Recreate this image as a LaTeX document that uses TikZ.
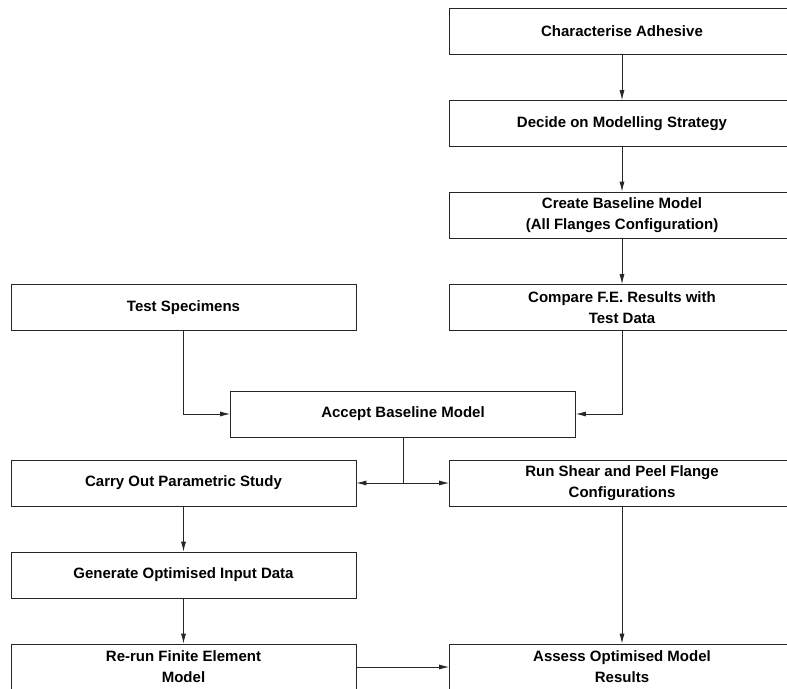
\documentclass[tikz,border=0pt]{standalone}
\usepackage{fontspec}
\setmainfont{Liberation Sans}
\usetikzlibrary{arrows.meta}
\begin{document}
\begin{tikzpicture}[x=1pt,y=-1pt,
  box/.style={draw=black!85,line width=0.8pt,minimum width=345pt,minimum height=46pt,
    inner sep=0pt,align=center,font=\bfseries\fontsize{15}{21}\selectfont},
  arr/.style={draw=black!85,line width=0.8pt,-{Latex[length=10pt,width=5pt]}},
  ln/.style={draw=black!85,line width=0.8pt}]
\useasboundingbox (0,0) rectangle (787,688);
\clip (0,0) rectangle (787,688);
\fill[white] (0,0) rectangle (787,688);
\node[box] (char) at (622,31) {Characterise Adhesive};
\node[box] (decide) at (622,123.5) {Decide on Modelling Strategy};
\node[box] (create) at (622,215) {Create Baseline Model\\(All Flanges Configuration)};
\node[box] (compare) at (622,307.5) {Compare F.E. Results with\\Test Data};
\node[box] (test) at (183.5,307.5) {Test Specimens};
\node[box] (accept) at (403,414) {Accept Baseline Model};
\node[box] (carry) at (183.5,483) {Carry Out Parametric Study};
\node[box] (run) at (622,483) {Run Shear and Peel Flange\\Configurations};
\node[box] (gen) at (183.5,575) {Generate Optimised Input Data};
\node[box] (rerun) at (183.5,667) {Re-run Finite Element\\Model};
\node[box] (assess) at (622,667) {Assess Optimised Model\\Results};
\coordinate (j) at (403,483);
\draw[arr] (char) -- (decide);
\draw[arr] (decide) -- (create);
\draw[arr] (create) -- (compare);
\draw[arr] (test) |- (accept);
\draw[arr] (compare) |- (accept);
\draw[ln] (accept) -- (j);
\draw[arr] (j) -- (carry);
\draw[arr] (j) -- (run);
\draw[arr] (carry) -- (gen);
\draw[arr] (gen) -- (rerun);
\draw[arr] (run) -- (assess);
\draw[arr] (rerun) -- (assess);
\end{tikzpicture}
\end{document}
